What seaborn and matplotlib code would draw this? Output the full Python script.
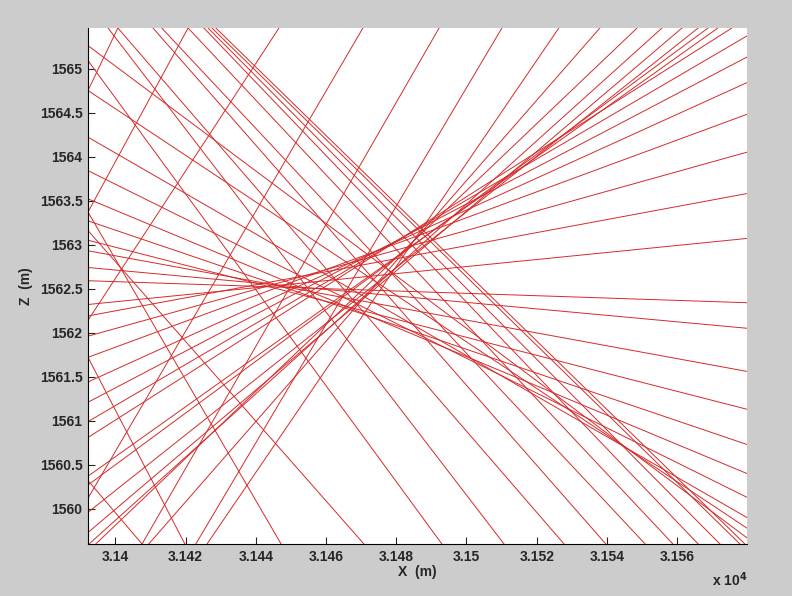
import pandas as pd
import numpy as np
import matplotlib
matplotlib.use('Agg')
import matplotlib.pyplot as plt
import seaborn as sns
from matplotlib.ticker import FuncFormatter, MultipleLocator

# limites del grafico (m)
x_lim = [31392.2, 31579.9]
z_lim = [1559.6, 1565.46]

# rayos que bajan hacia la derecha: punto inicial y final (X, Z)
x0_baja = [31392.2, 31392.2, 31392.2, 31392.2, 31392.2, 31392.2, 31392.2, 31392.2,
           31392.2, 31392.2, 31397.9, 31400.7, 31410.7, 31413.2, 31420.7, 31425.2,
           31426.4, 31427.5, 31428.6, 31392.2, 31392.2, 31392.2, 31392.2, 31392.2]
z0_baja = [1562.59, 1562.74, 1562.93, 1563.05, 1563.27, 1563.52, 1563.84, 1564.22,
           1564.75, 1565.26, 1565.46, 1565.46, 1565.46, 1565.46, 1565.46, 1565.46,
           1565.46, 1565.46, 1565.46, 1563.37, 1561.72, 1560.32, 1563.16, 1565.09]
x1_baja = [31579.9, 31579.9, 31579.9, 31579.9, 31579.9, 31579.9, 31579.9, 31579.9,
           31579.9, 31579.9, 31510.7, 31527.8, 31539.7, 31550.9, 31558.8, 31566.0,
           31572.2, 31577.9, 31579.3, 31447.2, 31419.8, 31407.6, 31470.8, 31493.0]
z1_baja = [1562.34, 1562.05, 1561.56, 1561.13, 1560.73, 1560.40, 1560.13, 1559.90,
           1559.78, 1559.67, 1559.6, 1559.6, 1559.6, 1559.6, 1559.6, 1559.6,
           1559.6, 1559.6, 1559.6, 1559.6, 1559.6, 1559.6, 1559.6, 1559.6]

# rayos que suben hacia la derecha
x0_sube = [31392.2, 31392.2, 31407.6, 31422.9, 31426.1, 31392.2, 31392.2, 31392.2,
           31392.2, 31392.2, 31392.2, 31392.2, 31392.2, 31392.2, 31392.2, 31392.2,
           31392.2, 31392.5, 31394.4, 31409.5, 31392.2, 31392.2]
z0_sube = [1562.14, 1560.12, 1559.6, 1559.6, 1559.6, 1562.32, 1562.19, 1561.96,
           1561.72, 1561.44, 1561.21, 1560.99, 1560.81, 1560.37, 1560.27, 1559.96,
           1559.73, 1559.6, 1559.6, 1559.6, 1564.75, 1563.37]
x1_sube = [31446.6, 31470.5, 31492.2, 31510.1, 31526.3, 31579.9, 31579.9, 31579.9,
           31579.9, 31579.9, 31579.9, 31579.9, 31575.6, 31571.6, 31568.8, 31566.0,
           31561.4, 31555.7, 31548.6, 31538.0, 31400.7, 31420.7]
z1_sube = [1565.46, 1565.46, 1565.46, 1565.46, 1565.46, 1563.07, 1563.58, 1564.05,
           1564.48, 1564.84, 1565.13, 1565.37, 1565.46, 1565.46, 1565.46, 1565.46,
           1565.46, 1565.46, 1565.46, 1565.46, 1565.46, 1565.46]

# tabla larga: dos puntos por rayo
x_ini = x0_baja + x0_sube
z_ini = z0_baja + z0_sube
x_fin = x1_baja + x1_sube
z_fin = z1_baja + z1_sube
filas = []
for i in range(len(x_ini)):
    filas.append({'rayo': i, 'X': x_ini[i], 'Z': z_ini[i]})
    filas.append({'rayo': i, 'X': x_fin[i], 'Z': z_fin[i]})
df = pd.DataFrame(filas)

sns.set_style('white')
plt.rcParams['font.family'] = ['Liberation Sans', 'DejaVu Sans']
plt.rcParams['font.weight'] = 'bold'

fig = plt.figure(figsize=(7.92, 5.96), dpi=100, facecolor='#cccccc')
ax = fig.add_axes([88 / 792, 52 / 596, 659 / 792, 516 / 596])
ax.set_facecolor('white')

sns.lineplot(data=df, x='X', y='Z', units='rayo', estimator=None, sort=False,
             color='#d42a2a', linewidth=0.7, legend=False, ax=ax)

ax.set_xlim(x_lim)
ax.set_ylim(z_lim)
ax.xaxis.set_major_locator(MultipleLocator(20))
ax.yaxis.set_major_locator(MultipleLocator(0.5))
ax.xaxis.set_major_formatter(FuncFormatter(lambda v, p: f'{v / 1e4:g}'))
ax.yaxis.set_major_formatter(FuncFormatter(lambda v, p: f'{v:g}'))
ax.tick_params(direction='in', length=5, width=0.8, labelsize=10, pad=4,
               top=False, right=False, left=True, bottom=True)
for lab in ax.get_xticklabels() + ax.get_yticklabels():
    lab.set_fontweight('bold')

for s in ['top', 'right']:
    ax.spines[s].set_visible(False)
for s in ['left', 'bottom']:
    ax.spines[s].set_color('black')
    ax.spines[s].set_linewidth(0.8)

ax.set_xlabel('X  (m)', fontsize=10, fontweight='bold', labelpad=1)
ax.set_ylabel('Z  (m)', fontsize=10, fontweight='bold', labelpad=5)
fig.text(712 / 792, 1 - 580 / 596, r'x 10$^{\mathbf{4}}$', fontsize=10,
         fontweight='bold', va='center')

fig.savefig('out.png', dpi=100, facecolor=fig.get_facecolor())
